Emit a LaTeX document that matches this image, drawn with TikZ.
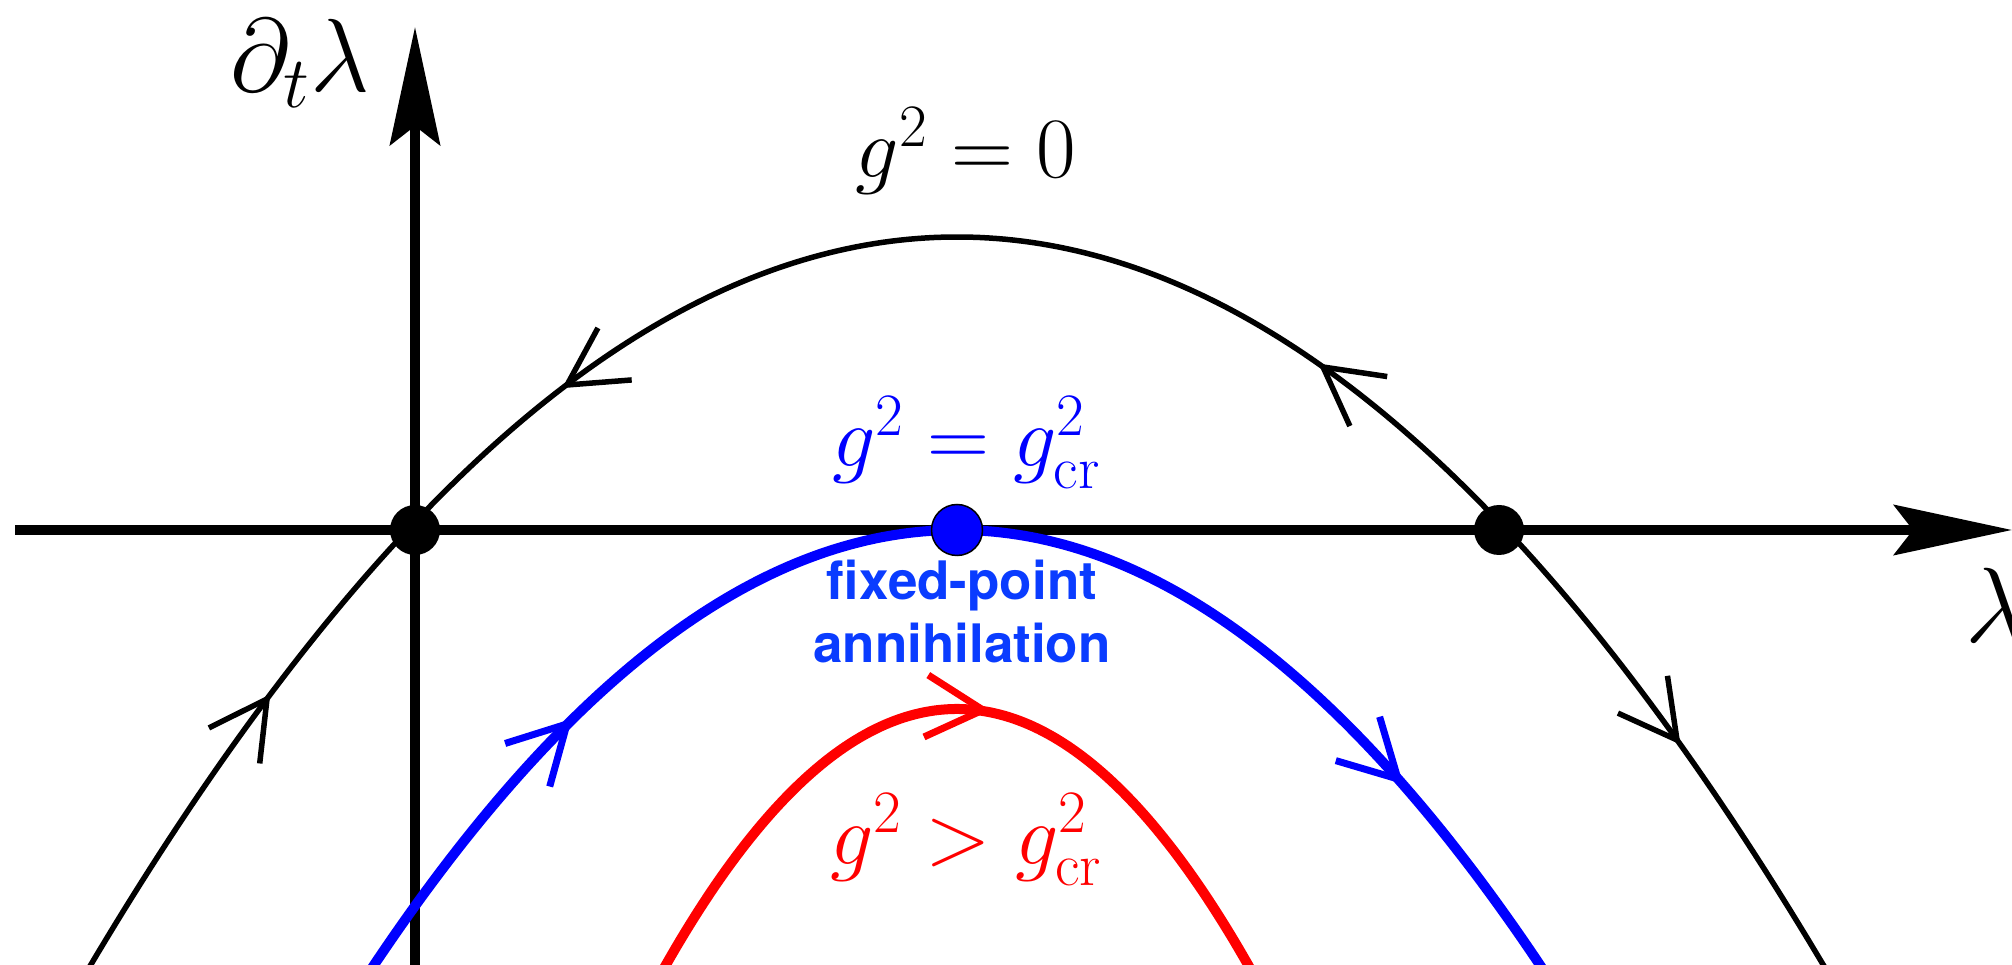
\RequirePackage{fix-cm}
\documentclass[tikz,border=0pt]{standalone}
\usepackage{fontspec}
\newfontfamily\helv{TeX Gyre Heros}
\usetikzlibrary{arrows.meta}
\definecolor{fpblue}{RGB}{10,60,255}
\tikzset{
  axis/.style={line width=9.5pt,-{Stealth[length=118pt,width=50pt,inset=19pt]}},
  barb/.pic={\draw[line join=round] (-57,31) -- (0,0) -- (-57,-31);},
  bdot/.style={circle,fill=black,minimum size=50pt,inner sep=0pt},
  cdot/.style={circle,fill=blue,draw=black,line width=1.5pt,minimum size=51pt,inner sep=0pt},
  lbl/.style={inner sep=0pt,anchor=base},
  big/.style={font=\fontsize{86}{100}\selectfont},
}
\begin{document}
\begin{tikzpicture}[x=1pt,y=1pt]
\useasboundingbox (0,0) rectangle (2012,964);
% axes
\coordinate (hx0) at (15,434);
\coordinate (hx1) at (2012,434);
\coordinate (vy0) at (415,-20);
\coordinate (vy1) at (415,937);
\draw[axis] (hx0) -- (hx1);
\draw[axis] (vy0) -- (vy1);
% curves
\draw[black,line width=5.5pt,domain=80:1834,samples=200] plot (\x,{727-970*((\x-957)/1000)^2});
\draw[blue,line width=10pt,domain=370:1545,samples=150] plot (\x,{434-1280*((\x-957)/1000)^2});
\draw[red,line width=10pt,domain=661:1253,samples=120] plot (\x,{255-3020*((\x-957)/1000)^2});
% flow arrows
\pic[black,line width=5.5pt,rotate=213] at (567,579) {barb};
\pic[black,line width=5.5pt,rotate=143] at (1323,597) {barb};
\pic[black,line width=5.5pt,rotate=55] at (267,265) {barb};
\pic[black,line width=5.5pt,rotate=-53] at (1677,224) {barb};
\pic[blue,line width=7pt,rotate=46] at (567,240) {barb};
\pic[blue,line width=7pt,rotate=-45] at (1398,185) {barb};
\pic[red,line width=7pt,rotate=-4] at (983,254) {barb};
% fixed points
\node[bdot] (fp0) at (415,434) {};
\node[bdot] (fp1) at (1499,434) {};
\node[cdot] (fpc) at (957,434) {};
% labels
\node[lbl,anchor=base west,font=\fontsize{104}{120}\selectfont] (ylab) at (230,872) {$\partial_t\lambda$};
\node[lbl,anchor=base west,font=\fontsize{107}{120}\selectfont] (xlab) at (1965,321) {$\lambda$};
\node[lbl,big] (g0) at (966,786) {$g^2=0$};
\node[lbl,big,blue] (gcr) at (966,497) {$g^2=g^2_{\mathrm{cr}}$};
\node[lbl,big,red] (ggt) at (966,100) {$g^2>g^2_{\mathrm{cr}}$};
\node[lbl,fpblue,align=center,font=\helv\bfseries\fontsize{53}{63}\selectfont] (fpa) at (962,301) {fixed-point\\annihilation};
\end{tikzpicture}
\end{document}
